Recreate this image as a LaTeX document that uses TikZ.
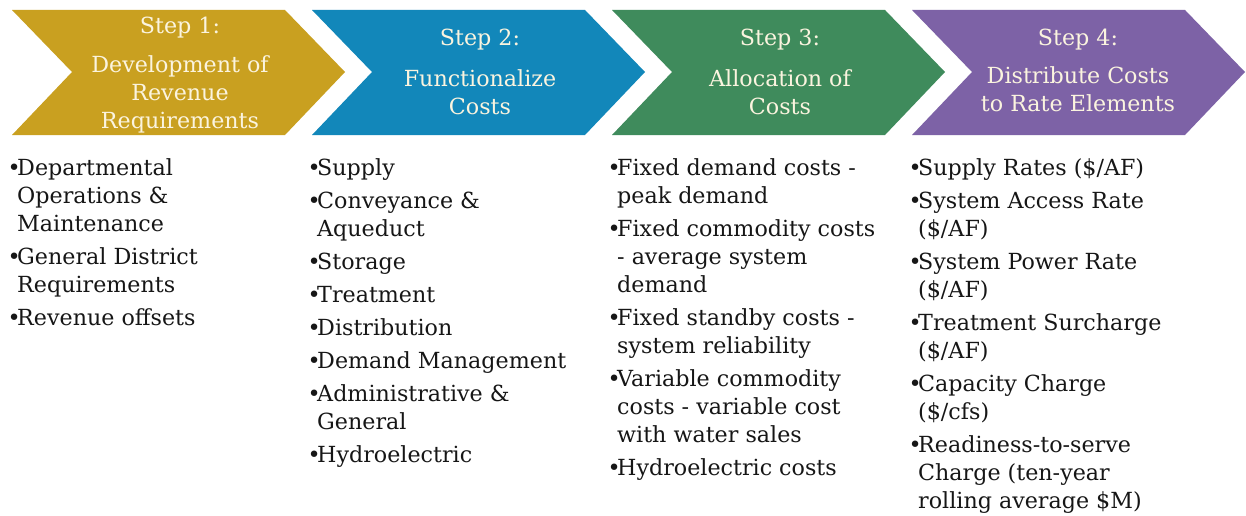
\documentclass[tikz,border=0pt]{standalone}
\usepackage{fontspec}
\setmainfont{DejaVu Serif}
\definecolor{cgold}{HTML}{C9A020}
\definecolor{cblue}{HTML}{1287BA}
\definecolor{cgreen}{HTML}{3F8B5C}
\definecolor{cpurple}{HTML}{7D62A6}
\definecolor{ctitle}{HTML}{FBF4DF}
\definecolor{ctext}{HTML}{161616}
\newcommand{\bul}{\makebox[9.5pt][l]{\textbullet}}
\newcommand{\ind}{\hspace*{9.5pt}}
\begin{document}
\begin{tikzpicture}[x=1pt,y=-1pt,
  title/.style={text=ctitle,align=center,inner sep=0pt,anchor=north,
    font=\fontsize{22.2}{28}\selectfont},
  blist/.style={text=ctext,align=left,inner sep=0pt,anchor=north west,
    font=\fontsize{22.2}{28}\selectfont}]
\useasboundingbox[fill=white] (0,0) rectangle (1246,516);
\fill[cgold]   (12,10) -- (285,10) -- (345,72) -- (285,135) -- (12,135) -- (72,72) -- cycle;
\fill[cblue]   (312,10) -- (585,10) -- (645,72) -- (585,135) -- (312,135) -- (372,72) -- cycle;
\fill[cgreen]  (612,10) -- (885,10) -- (945,72) -- (885,135) -- (612,135) -- (672,72) -- cycle;
\fill[cpurple] (912,10) -- (1185,10) -- (1245,72) -- (1185,135) -- (912,135) -- (972,72) -- cycle;
\node[title] (t1) at (180,13.4) {\strut Step 1:\\[11pt]Development of\\Revenue\\Requirements};
\node[title] (t2) at (480,25.4) {\strut Step 2:\\[13pt]Functionalize\\Costs};
\node[title] (t3) at (780,25.4) {\strut Step 3:\\[13pt]Allocation of\\Costs};
\node[title] (t4) at (1078,25.4) {\strut Step 4:\\[10pt]Distribute Costs\\to Rate Elements};
\node[blist] (l1) at (7.5,155.4) {\strut\bul Departmental\\\ind Operations \&\\\ind Maintenance\\[5pt]\bul General District\\\ind Requirements\\[5pt]\bul Revenue offsets};
\node[blist] (l2) at (307.5,155.4) {\strut\bul Supply\\[5pt]\bul Conveyance \&\\\ind Aqueduct\\[5pt]\bul Storage\\[5pt]\bul Treatment\\[5pt]\bul Distribution\\[5pt]\bul Demand Management\\[5pt]\bul Administrative \&\\\ind General\\[5pt]\bul Hydroelectric};
\node[blist] (l3) at (607.5,155.4) {\strut\bul Fixed demand costs -\\\ind peak demand\\[5pt]\bul Fixed commodity costs\\\ind - average system\\\ind demand\\[5pt]\bul Fixed standby costs -\\\ind system reliability\\[5pt]\bul Variable commodity\\\ind costs - variable cost\\\ind with water sales\\[5pt]\bul Hydroelectric costs};
\node[blist] (l4) at (908.5,155.4) {\strut\bul Supply Rates (\$/AF)\\[5pt]\bul System Access Rate\\\ind (\$/AF)\\[5pt]\bul System Power Rate\\\ind (\$/AF)\\[5pt]\bul Treatment Surcharge\\\ind (\$/AF)\\[5pt]\bul Capacity Charge\\\ind (\$/cfs)\\[5pt]\bul Readiness-to-serve\\\ind Charge (ten-year\\\ind rolling average \$M)};
\end{tikzpicture}
\end{document}
